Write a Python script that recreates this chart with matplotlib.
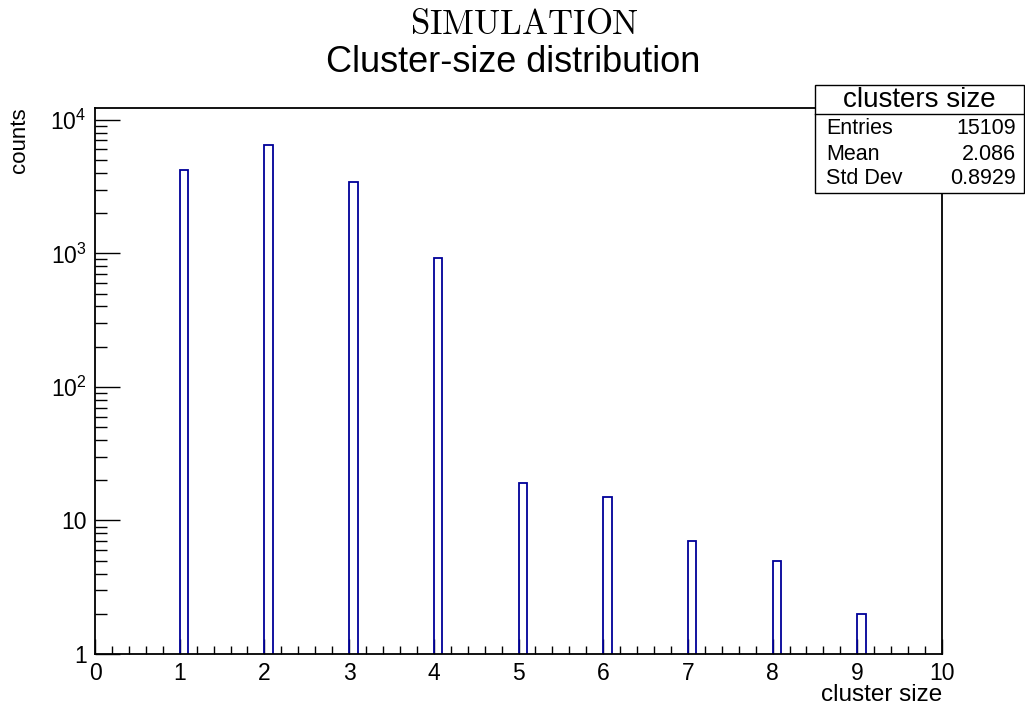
"""Cluster-size distribution from the simulation, drawn in ROOT style on a log scale."""
import matplotlib

matplotlib.use("Agg")
import matplotlib.pyplot as plt
from matplotlib.patches import Rectangle
from matplotlib.ticker import FixedLocator, MultipleLocator, NullFormatter

plt.rcParams["font.family"] = ["Liberation Sans", "DejaVu Sans"]
plt.rcParams["mathtext.fontset"] = "custom"
plt.rcParams["mathtext.rm"] = "Liberation Sans"
plt.rcParams["mathtext.it"] = "Liberation Sans:italic"

# histogram contents: 100 bins of width 0.1 on [0, 10], only these are filled
cluster_size = [1, 2, 3, 4, 5, 6, 7, 8, 9]
counts = [4180, 6515, 3445, 921, 19, 15, 7, 5, 2]
bin_width = 0.1

stats_title = "clusters size"
stats_names = ["Entries", "Mean", "Std Dev"]
stats_values = ["15109", "2.086", "0.8929"]

y_major = [1, 10, 100, 1000, 10000]
y_labels = ["1", "10", r"$10^{2}$", r"$10^{3}$", r"$10^{4}$"]

W, H = 1025, 706
fig = plt.figure(figsize=(W / 100, H / 100), dpi=100)
ax = fig.add_axes([95 / W, 1 - 654 / H, (942 - 95) / W, (654 - 108) / H])

line_blue = "#000099"
ax.bar(cluster_size, counts, width=bin_width, align="edge", fill=False,
       edgecolor=line_blue, linewidth=1.3, zorder=2)

ax.set_yscale("log")
ax.set_xlim(0, 10)
ax.set_ylim(1, 12250)

ax.xaxis.set_major_locator(MultipleLocator(1))
ax.xaxis.set_minor_locator(MultipleLocator(0.2))
ax.yaxis.set_major_locator(FixedLocator(y_major))
ax.yaxis.set_minor_locator(FixedLocator(
    [m * 10 ** d for d in range(4) for m in range(2, 10)]))
ax.yaxis.set_minor_formatter(NullFormatter())
ax.set_yticks(y_major)
ax.set_yticklabels(y_labels)

ax.tick_params(axis="both", which="both", direction="in", colors="black",
               top=False, right=False, labelsize=16.5, width=1.0, pad=6)
ax.tick_params(axis="x", which="major", length=10.8)
ax.tick_params(axis="x", which="minor", length=5.8)
ax.tick_params(axis="y", which="major", length=18)
ax.tick_params(axis="y", which="minor", length=8.6)
for spine in ax.spines.values():
    spine.set_linewidth(1.3)
    spine.set_zorder(3)

# axis titles, ROOT puts them at the far end of each axis
fig.text(942 / W, 1 - 701 / H, "cluster size", ha="right", va="baseline",
         fontsize=17.5)
fig.text(20 / W, 1 - 107 / H, "counts", ha="center", va="top",
         rotation=90, fontsize=16)

fig.text(524 / W, 1 - 24 / H, r"$\mathrm{SIMULATION}$", ha="center",
         va="center", fontsize=25, math_fontfamily="cm")
fig.text(513 / W, 1 - 63 / H, "Cluster-size distribution", ha="center",
         va="center", fontsize=26)

# statistics box
box_l, box_r = 815 / W, 1023.5 / W
box_t, box_sep, box_b = 1 - 85 / H, 1 - 114 / H, 1 - 193 / H
fig.add_artist(Rectangle((box_l, box_b), box_r - box_l, box_t - box_b,
                         transform=fig.transFigure, facecolor="white",
                         edgecolor="black", linewidth=1.0, zorder=5))
fig.add_artist(plt.Line2D([box_l, box_r], [box_sep, box_sep],
                          transform=fig.transFigure, color="black",
                          linewidth=1.0, zorder=6))
fig.text((box_l + box_r) / 2, 1 - 100 / H, stats_title, ha="center",
         va="center", fontsize=20, zorder=7)
for name, value, y in zip(stats_names, stats_values, [128, 154, 178]):
    fig.text(826 / W, 1 - y / H, name, ha="left", va="center",
             fontsize=15.5, zorder=7)
    fig.text(1016 / W, 1 - y / H, value, ha="right", va="center",
             fontsize=15.5, zorder=7)

fig.savefig("out.png", dpi=100)
